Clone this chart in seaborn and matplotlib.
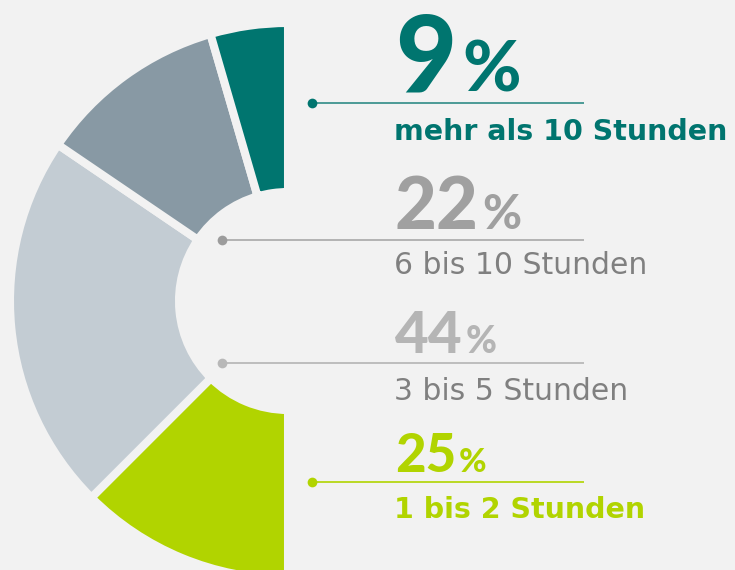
import numpy as np
import pandas as pd
import seaborn as sns
import matplotlib.pyplot as plt

# Anteile, von unten (grün) nach oben (petrol) im Halbring
categories = ["1 bis 2 Stunden", "3 bis 5 Stunden", "6 bis 10 Stunden", "mehr als 10 Stunden"]
shares = [25, 44, 22, 9]
ring_colors = ["#b1d400", "#c3ccd3", "#8899a4", "#00756f"]

bg = "#f2f2f2"
W, H = 735, 570

sns.set_theme(style="white")
plt.rcParams["font.family"] = ["Lato", "DejaVu Sans"]

fig = plt.figure(figsize=(W / 100, H / 100), dpi=100)
fig.patch.set_facecolor(bg)
ax = fig.add_axes([0, 0, 1, 1])
ax.set_facecolor(bg)

# half donut: the second half is an invisible wedge of the same total
wedges, _ = ax.pie(
    shares + [sum(shares)],
    colors=ring_colors + [bg],
    startangle=270,
    counterclock=False,
    radius=278,
    center=(288, H - 301),
    wedgeprops=dict(width=169, edgecolor=bg, linewidth=5.8),
)
wedges[-1].set_visible(False)

ax.set_xlim(0, W)
ax.set_ylim(0, H)
ax.set_aspect("equal")
ax.axis("off")

# label block, top to bottom (reversed order of the ring)
num_colors = ["#b1d400", "#b5b5b5", "#a0a0a0", "#00756f"]
label_colors = ["#b1d400", "#808080", "#808080", "#00756f"]
line_colors = ["#b1d400", "#b4b4b4", "#a8a8a8", "#2f8b86"]
dot_colors = ["#b1d400", "#b8b8b8", "#9c9c9c", "#00756f"]
label_bold = [True, False, False, True]
num_sizes = [38, 42, 52, 76]
pct_sizes = [24, 27, 34, 51]
num_base = [472, 353, 229, 92]
line_y = [482, 363, 240, 103]
dot_x = [312, 222, 222, 312]
label_base = [518, 400, 274, 140]

x0 = 395
fig.canvas.draw()
renderer = fig.canvas.get_renderer()
for i, (cat, val) in enumerate(zip(categories, shares)):
    t = ax.text(x0, H - num_base[i], f"{val}", fontsize=num_sizes[i], fontweight="black",
                color=num_colors[i], va="baseline", ha="left")
    bb = t.get_window_extent(renderer=renderer)
    ax.text(bb.x1 + (6 if num_sizes[i] > 60 else 3), H - num_base[i], "%",
            fontsize=pct_sizes[i], fontweight="black",
            color=num_colors[i], va="baseline", ha="left")
    ax.plot([dot_x[i], 584], [H - line_y[i]] * 2, color=line_colors[i], lw=1.2,
            solid_capstyle="butt")
    ax.plot(dot_x[i], H - line_y[i], "o", ms=7, color=dot_colors[i], mew=0)
    ax.text(x0 - 1, H - label_base[i], cat, fontsize=20.5 if label_bold[i] else 21.5,
            fontweight="bold" if label_bold[i] else "normal",
            family=["DejaVu Sans"],
            color=label_colors[i], va="baseline", ha="left")

fig.savefig("out.png", dpi=100, facecolor=bg)
